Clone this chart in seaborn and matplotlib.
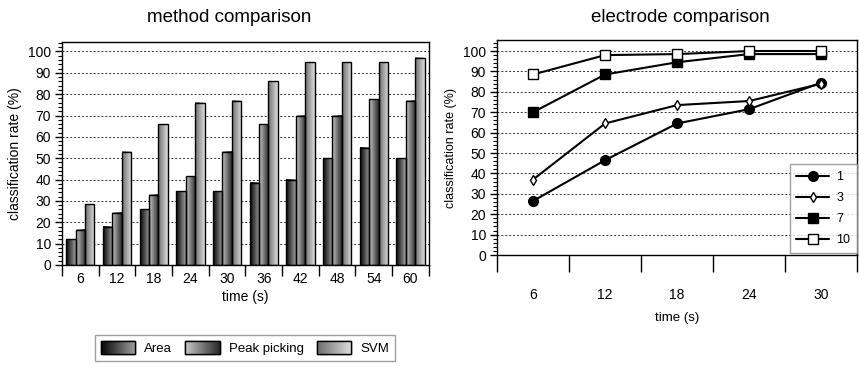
import numpy as np
import pandas as pd
import matplotlib

matplotlib.use("Agg")
import matplotlib.pyplot as plt
from matplotlib.colors import LinearSegmentedColormap, to_rgb
from matplotlib.lines import Line2D
from matplotlib.patches import Rectangle
from matplotlib.ticker import FixedFormatter, FixedLocator, MultipleLocator, NullFormatter
import seaborn as sns

# data: method comparison (bars)
bar_times = ["6", "12", "18", "24", "30", "36", "42", "48", "54", "60"]
area_rate = [12, 18, 26, 34.5, 34.5, 38.5, 40, 50, 55, 50]
peak_rate = [16.5, 24.5, 33, 41.5, 53, 66, 70, 70, 77.5, 77]
svm_rate = [28.5, 53, 66, 76, 77, 86, 95, 95, 95, 97]
methods = ["Area", "Peak picking", "SVM"]

# data: electrode comparison (lines)
line_times = ["6", "12", "18", "24", "30"]
electrode_1 = [26.5, 46.5, 64.5, 71.5, 84.5]
electrode_3 = [37, 64.5, 73.5, 75.5, 84]
electrode_7 = [70, 88.5, 94.5, 98.5, 98.5]
electrode_10 = [88.5, 98, 98.5, 100, 100]
electrodes = ["1", "3", "7", "10"]

sns.set_theme(style="ticks")
plt.rcParams["font.family"] = ["Liberation Sans", "DejaVu Sans"]
plt.rcParams.update({"text.color": "black", "axes.labelcolor": "black",
                     "xtick.color": "black", "ytick.color": "black"})

bars_df = pd.DataFrame({
    "time": bar_times * 3,
    "rate": area_rate + peak_rate + svm_rate,
    "method": np.repeat(methods, len(bar_times)),
})
lines_df = pd.DataFrame({
    "time": line_times * 4,
    "rate": electrode_1 + electrode_3 + electrode_7 + electrode_10,
    "electrode": np.repeat(electrodes, len(line_times)),
})

# gradient fills (left colour -> right colour)
grad_ends = [("#050505", "#a0a0a0"), ("#c8c8c8", "#2a2a2a"), ("#6e6e6e", "#dedede")]
cmaps = [LinearSegmentedColormap.from_list(m, c) for m, c in zip(methods, grad_ends)]
mid_colors = ["#555555", "#7a7a7a", "#a5a5a5"]
grad = np.linspace(0, 1, 64).reshape(1, -1)

fig = plt.figure(figsize=(8.59, 3.67), dpi=100)
ax1 = fig.add_axes([0.0722, 0.278, 0.427, 0.608])
ax2 = fig.add_axes([0.5786, 0.305, 0.4194, 0.586])

grid_kw = dict(linestyle=(0, (2, 2)), color="#333333", linewidth=0.7)

# ---- left: method comparison
sns.barplot(data=bars_df, x="time", y="rate", hue="method", order=bar_times,
            hue_order=methods, palette=mid_colors, edgecolor="black",
            linewidth=1.0, width=0.77, legend=False, ax=ax1)
mid_rgb = [to_rgb(c) for c in mid_colors]
for patch in list(ax1.patches):
    rgb = to_rgb(patch.get_facecolor())
    idx = int(np.argmin([sum((a - b) ** 2 for a, b in zip(rgb, m)) for m in mid_rgb]))
    x0, y0 = patch.get_xy()
    w, h = patch.get_width(), patch.get_height()
    ax1.imshow(grad, extent=[x0, x0 + w, y0, y0 + h], aspect="auto",
               cmap=cmaps[idx], origin="lower", zorder=2, interpolation="bilinear")
    patch.set_facecolor("none")
    patch.set_zorder(3)

ax1.set_xlim(-0.5, len(bar_times) - 0.5)
ax1.set_ylim(0, 104.5)
ax1.set_axisbelow(True)
ax1.yaxis.grid(True, **grid_kw)
ax1.xaxis.set_major_locator(FixedLocator(np.arange(-0.5, len(bar_times), 1)))
ax1.xaxis.set_major_formatter(NullFormatter())
ax1.xaxis.set_minor_locator(FixedLocator(np.arange(len(bar_times))))
ax1.xaxis.set_minor_formatter(FixedFormatter(bar_times))
ax1.tick_params(axis="x", which="major", length=8, width=1, color="black")
ax1.tick_params(axis="x", which="minor", length=0, pad=5, labelsize=10)
ax1.yaxis.set_major_locator(MultipleLocator(10))
ax1.yaxis.set_minor_locator(MultipleLocator(2))
ax1.tick_params(axis="y", which="major", length=5, width=1, pad=3, labelsize=10)
ax1.tick_params(axis="y", which="minor", length=3, width=0.8)
ax1.set_xlabel("time (s)", fontsize=10, labelpad=3)
ax1.set_ylabel("classification rate (%)", fontsize=10, labelpad=4)
for s in ax1.spines.values():
    s.set_color("black")
    s.set_linewidth(1.0)

# ---- right: electrode comparison
markers = ["o", "d", "s", "s"]
faces = ["black", "white", "black", "white"]
sizes = [7, 5.5, 7, 7.5]
sns.pointplot(data=lines_df, x="time", y="rate", hue="electrode", order=line_times,
              hue_order=electrodes, palette=["black"] * 4, markers=markers,
              linestyles="-", errorbar=None, legend=False, ax=ax2,
              linewidth=1.5, markeredgewidth=1.0)
for line, fc, ms in zip(ax2.lines, faces, sizes):
    line.set_markerfacecolor(fc)
    line.set_markeredgecolor("black")
    line.set_markersize(ms)
    line.set_zorder(4)

ax2.set_xlim(-0.5, len(line_times) - 0.5)
ax2.set_ylim(0, 105.4)
ax2.set_axisbelow(True)
ax2.yaxis.grid(True, **grid_kw)
ax2.xaxis.set_major_locator(FixedLocator(np.arange(-0.5, len(line_times), 1)))
ax2.xaxis.set_major_formatter(NullFormatter())
ax2.xaxis.set_minor_locator(FixedLocator(np.arange(len(line_times))))
ax2.xaxis.set_minor_formatter(FixedFormatter(line_times))
ax2.tick_params(axis="x", which="major", length=12, width=1, color="black")
ax2.tick_params(axis="x", which="minor", length=0, pad=24, labelsize=10)
ax2.yaxis.set_major_locator(MultipleLocator(10))
ax2.yaxis.set_minor_locator(MultipleLocator(2))
ax2.tick_params(axis="y", which="major", length=5, width=1, pad=3, labelsize=10)
ax2.tick_params(axis="y", which="minor", length=3, width=0.8)
ax2.set_xlabel("time (s)", fontsize=9.5, labelpad=7)
ax2.set_ylabel("classification rate (%)", fontsize=9, labelpad=4)
for s in ax2.spines.values():
    s.set_color("black")
    s.set_linewidth(1.0)

line_handles = [Line2D([], [], color="black", lw=1.5, marker=m, ms=ms,
                       markerfacecolor=fc, markeredgecolor="black")
                for m, fc, ms in zip(markers, faces, sizes)]
ax2.legend(line_handles, electrodes, loc="lower right", bbox_to_anchor=(1.0, 0.01),
           borderaxespad=0, frameon=True, fancybox=False, edgecolor="#888888",
           fontsize=9, handlelength=2.6, borderpad=0.55, labelspacing=0.72,
           handletextpad=0.6)
ax2.get_legend().get_frame().set_linewidth(1.0)

# titles
fig.text(229 / 859, 1 - 18 / 367, "method comparison", ha="center", va="center", fontsize=13.5)
fig.text(680 / 859, 1 - 18 / 367, "electrode comparison", ha="center", va="center", fontsize=13.5)

# bottom legend with gradient swatches
bar_handles = [Rectangle((0, 0), 1, 1, facecolor=c, edgecolor="black") for c in mid_colors]
leg = fig.legend(bar_handles, methods, ncol=3, loc="center",
                 bbox_to_anchor=(245 / 859, 1 - 348 / 367), frameon=True,
                 fancybox=False, edgecolor="#888888", fontsize=9.5,
                 handlelength=2.6, handleheight=1.1, columnspacing=1.0,
                 borderpad=0.45, handletextpad=0.7)
leg.get_frame().set_linewidth(1.0)

fig.canvas.draw()
renderer = fig.canvas.get_renderer()
for h, cm in zip(leg.legend_handles, cmaps):
    bb = h.get_window_extent(renderer).transformed(fig.transFigure.inverted())
    iax = fig.add_axes([bb.x0, bb.y0, bb.width, bb.height])
    iax.imshow(grad, aspect="auto", cmap=cm, interpolation="bilinear")
    iax.set_axis_off()
    iax.add_patch(Rectangle((0, 0), 1, 1, transform=iax.transAxes, fill=False,
                            edgecolor="black", linewidth=1.0, clip_on=False))
    iax.set_zorder(10)

fig.savefig("out.png", dpi=100)
